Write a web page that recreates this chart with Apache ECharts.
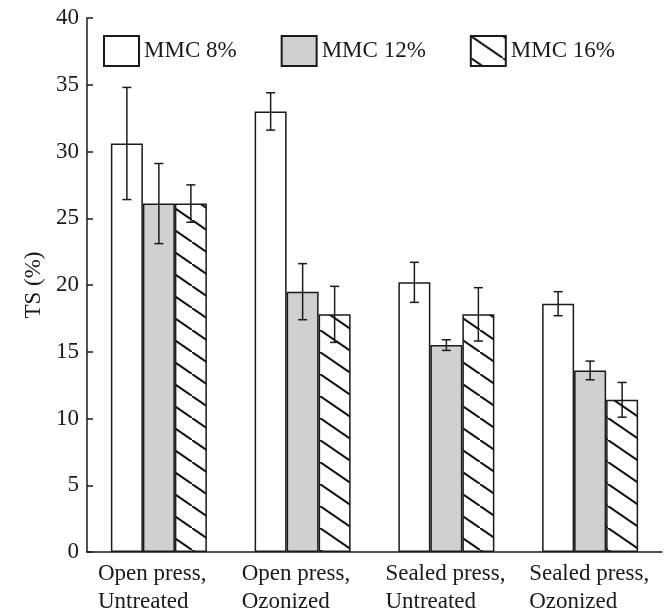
<!DOCTYPE html>
<html>
<head>
<meta charset="utf-8">
<script src="https://cdn.jsdelivr.net/npm/echarts@6/dist/echarts.min.js"></script>
<style>
html, body { margin: 0; padding: 0; background: #fff; }
#chart { width: 668px; height: 614px; }
</style>
</head>
<body>
<div id="chart"></div>
<script>
// data
const categories = [
	['Open press,', 'Untreated'],
	['Open press,', 'Ozonized'],
	['Sealed press,', 'Untreated'],
	['Sealed press,', 'Ozonized']
];
const seriesNames = ['MMC 8%', 'MMC 12%', 'MMC 16%'];
const mmc8 = [30.6, 33.0, 20.2, 18.6];
const mmc8Err = [4.2, 1.4, 1.5, 0.9];
const mmc12 = [26.1, 19.5, 15.5, 13.6];
const mmc12Err = [3.0, 2.1, 0.4, 0.7];
const mmc16 = [26.1, 17.8, 17.8, 11.4];
const mmc16Err = [1.4, 2.1, 2.0, 1.3];
const yMin = 0, yMax = 40, yStep = 5;

const FONT = 'Liberation Serif';
const BAR_W = 32;

function hatchPattern() {
	let c = document.createElement('canvas');
	c.width = 32;
	c.height = 22;
	let g = c.getContext('2d');
	g.fillStyle = '#fff';
	g.fillRect(0, 0, 32, 22);
	g.strokeStyle = '#111';
	g.lineWidth = 2;
	g.beginPath();
	g.moveTo(-4, -2.75);
	g.lineTo(36, 24.75);
	g.stroke();
	return c;
}

const fills = ['#ffffff', '#d0d0d0', { image: hatchPattern(), repeat: 'repeat' }];
const values = [mmc8, mmc12, mmc16];
const errors = [mmc8Err, mmc12Err, mmc16Err];

let series = [];
for (let i = 0; i < 3; i++) {
	series.push({
		type: 'bar',
		name: seriesNames[i],
		data: values[i],
		barWidth: BAR_W,
		barGap: '0%',
		itemStyle: {
			color: fills[i],
			borderColor: '#1a1a1a',
			borderWidth: 1.5
		},
		emphasis: { disabled: true }
	});
}
for (let i = 0; i < 3; i++) {
	let off = (i - 1) * BAR_W;
	series.push({
		type: 'custom',
		name: 'err' + i,
		z: 10,
		encode: { x: 0, y: [1, 2] },
		data: values[i].map((v, k) => [k, v - errors[i][k], v + errors[i][k]]),
		renderItem: function (params, api) {
			let lo = api.coord([api.value(0), api.value(1)]);
			let hi = api.coord([api.value(0), api.value(2)]);
			let x = lo[0] + off;
			let st = { stroke: '#1a1a1a', lineWidth: 1.5 };
			return {
				type: 'group',
				children: [
					{ type: 'line', shape: { x1: x, y1: hi[1], x2: x, y2: lo[1] }, style: st },
					{ type: 'line', shape: { x1: x - 4.5, y1: hi[1], x2: x + 4.5, y2: hi[1] }, style: st },
					{ type: 'line', shape: { x1: x - 4.5, y1: lo[1], x2: x + 4.5, y2: lo[1] }, style: st }
				]
			};
		}
	});
}

let myChart = echarts.init(document.getElementById('chart'), null, { renderer: 'canvas' });
myChart.setOption({
	animation: false,
	backgroundColor: '#fff',
	textStyle: { fontFamily: FONT },
	grid: {
		left: 87,
		right: 6,
		top: 18,
		bottom: 62
	},
	legend: {
		left: 98,
		top: 30,
		icon: 'rect',
		itemWidth: 35,
		itemHeight: 30,
		itemGap: 44,
		data: seriesNames,
		selectedMode: false,
		textStyle: {
			fontFamily: FONT,
			fontSize: 23,
			color: '#1a1a1a'
		}
	},
	xAxis: {
		type: 'category',
		data: categories.map(c => c.join('\n')),
		axisLine: { lineStyle: { color: '#1a1a1a', width: 1.5 } },
		axisTick: { inside: true, length: 6, lineStyle: { color: '#1a1a1a', width: 1.5 } },
		axisLabel: {
			margin: 8,
			interval: 0,
			formatter: function (v) {
				return v.split('\n').map(s => '{a|' + s + '}').join('\n');
			},
			rich: {
				a: {
					fontFamily: FONT,
					fontSize: 23,
					color: '#1a1a1a',
					width: 122,
					align: 'left',
					lineHeight: 28
				}
			}
		}
	},
	yAxis: {
		type: 'value',
		min: yMin,
		max: yMax,
		interval: yStep,
		name: 'TS (%)',
		nameLocation: 'middle',
		nameGap: 41,
		nameTextStyle: { fontFamily: FONT, fontSize: 23, color: '#1a1a1a' },
		axisLine: { show: true, lineStyle: { color: '#1a1a1a', width: 1.5 } },
		axisTick: { show: true, inside: true, length: 6, lineStyle: { color: '#1a1a1a', width: 1.5 } },
		splitLine: { show: false },
		axisLabel: {
			margin: 8,
			fontFamily: FONT,
			fontSize: 23,
			color: '#1a1a1a'
		}
	},
	series: series
});
</script>
</body>
</html>
